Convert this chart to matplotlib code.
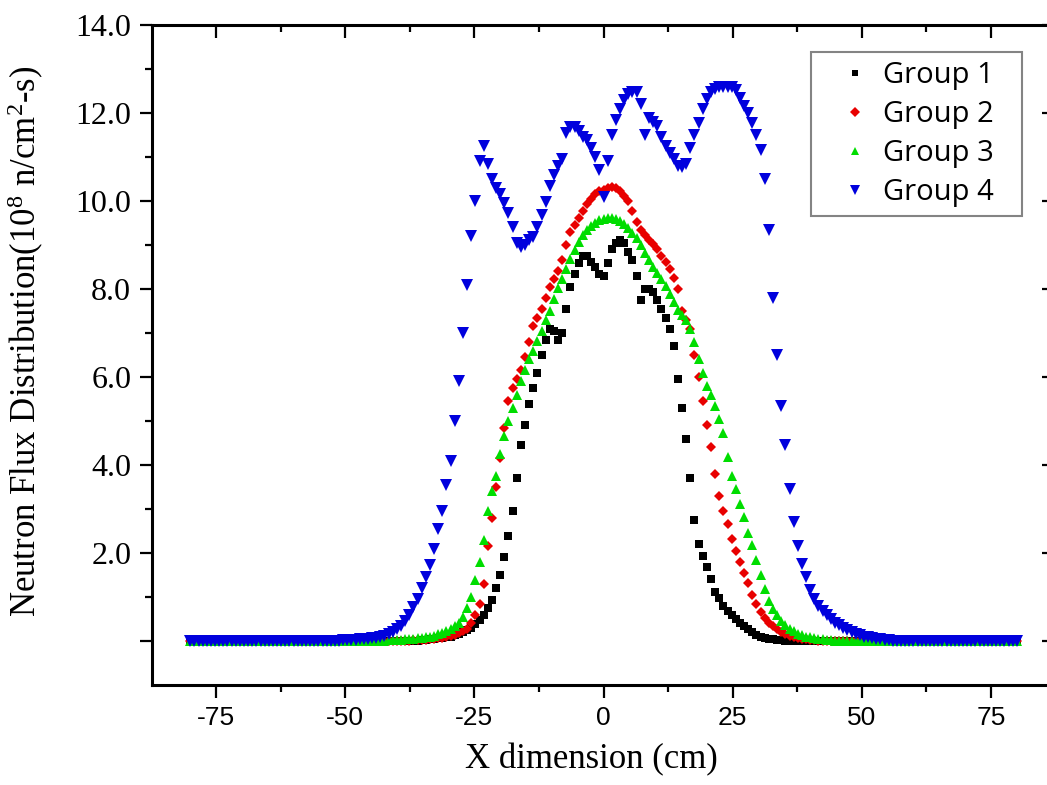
import numpy as np
import matplotlib
matplotlib.use("Agg")
import matplotlib.pyplot as plt
from matplotlib import lines as mlines
from matplotlib.ticker import FixedLocator

# mesh positions (cm), 0.8 cm pitch
x_cm = np.round(np.arange(-80, 80.01, 0.8), 1)

# group fluxes (1e8 n/cm2-s), 10 mesh points per row
group1 = [
    0, 0, 0, 0, 0, 0, 0, 0, 0, 0,
    0, 0, 0, 0, 0, 0, 0, 0, 0, 0,
    0, 0, 0, 0, 0, 0, 0, 0, 0, 0,
    0, 0, 0, 0, 0, 0, 0, 0, 0, 0,
    0, 0, 0, 0, 0, 0, 0, 0, 0.01, 0.01,
    0.01, 0.01, 0.01, 0.01, 0.01, 0.01, 0.02, 0.03, 0.04, 0.05,
    0.06, 0.07, 0.08, 0.10, 0.13, 0.16, 0.20, 0.24, 0.30, 0.38,
    0.48, 0.60, 0.75, 0.93, 1.20, 1.50, 1.90, 2.38, 2.95, 3.70,
    4.45, 4.90, 5.38, 5.75, 6.10, 6.50, 6.85, 7.08, 7.05, 6.85,
    7.00, 7.55, 8.05, 8.35, 8.60, 8.74, 8.74, 8.62, 8.50, 8.35,
    8.30, 8.60, 8.90, 9.05, 9.12, 9.05, 8.85, 8.65, 8.30, 7.76,
    8.00, 8.00, 7.93, 7.75, 7.55, 7.35, 7.10, 6.70, 5.95, 5.30,
    4.60, 3.70, 2.75, 2.20, 1.93, 1.68, 1.40, 1.12, 0.98, 0.80,
    0.68, 0.58, 0.50, 0.41, 0.33, 0.27, 0.20, 0.13, 0.09, 0.06,
    0.05, 0.04, 0.03, 0.02, 0.01, 0.01, 0.01, 0, 0, 0,
    0, 0, 0, 0, 0, 0, 0, 0, 0, 0,
    0, 0, 0, 0, 0, 0, 0, 0, 0, 0,
    0, 0, 0, 0, 0, 0, 0, 0, 0, 0,
    0, 0, 0, 0, 0, 0, 0, 0, 0, 0,
    0, 0, 0, 0, 0, 0, 0, 0, 0, 0,
    0,
]
group2 = [
    0, 0, 0, 0, 0, 0, 0, 0, 0, 0,
    0, 0, 0, 0, 0, 0, 0, 0, 0, 0,
    0, 0, 0, 0, 0, 0, 0, 0, 0, 0,
    0, 0, 0, 0, 0, 0, 0, 0, 0, 0,
    0, 0, 0, 0, 0, 0, 0.01, 0.01, 0.01, 0.01,
    0.01, 0.01, 0.01, 0.01, 0.02, 0.02, 0.02, 0.03, 0.04, 0.05,
    0.06, 0.07, 0.09, 0.11, 0.14, 0.18, 0.22, 0.28, 0.40, 0.60,
    0.85, 1.30, 2.15, 2.80, 3.50, 4.15, 4.85, 5.45, 5.75, 5.95,
    6.15, 6.45, 6.80, 7.15, 7.35, 7.55, 7.80, 8.05, 8.22, 8.40,
    8.65, 9.00, 9.30, 9.45, 9.62, 9.78, 9.92, 10.04, 10.15, 10.22,
    10.26, 10.30, 10.32, 10.30, 10.22, 10.12, 10.00, 9.78, 9.52, 9.35,
    9.22, 9.12, 9.02, 8.90, 8.75, 8.62, 8.45, 8.25, 8.00, 7.50,
    7.30, 7.10, 6.50, 6.00, 5.45, 4.90, 4.40, 3.80, 3.30, 2.95,
    2.65, 2.32, 2.05, 1.80, 1.55, 1.32, 1.05, 0.85, 0.66, 0.52,
    0.42, 0.34, 0.27, 0.21, 0.16, 0.12, 0.09, 0.07, 0.05, 0.04,
    0.03, 0.02, 0.01, 0.01, 0, 0, 0, 0, 0, 0,
    0, 0, 0, 0, 0, 0, 0, 0, 0, 0,
    0, 0, 0, 0, 0, 0, 0, 0, 0, 0,
    0, 0, 0, 0, 0, 0, 0, 0, 0, 0,
    0, 0, 0, 0, 0, 0, 0, 0, 0, 0,
    0,
]
group3 = [
    0, 0, 0, 0, 0, 0, 0, 0, 0, 0,
    0, 0, 0, 0, 0, 0, 0, 0, 0, 0,
    0, 0, 0, 0, 0, 0, 0, 0, 0, 0,
    0, 0, 0, 0, 0, 0, 0, 0, 0, 0,
    0, 0, 0, 0.01, 0.01, 0.01, 0.01, 0.01, 0.02, 0.02,
    0.03, 0.03, 0.04, 0.04, 0.05, 0.06, 0.07, 0.08, 0.10, 0.12,
    0.15, 0.18, 0.22, 0.27, 0.33, 0.42, 0.55, 0.75, 1.00, 1.38,
    1.80, 2.30, 2.95, 3.40, 3.75, 4.25, 4.65, 5.00, 5.30, 5.60,
    5.90, 6.15, 6.40, 6.60, 6.82, 7.05, 7.30, 7.50, 7.78, 8.02,
    8.22, 8.45, 8.68, 8.88, 9.07, 9.22, 9.33, 9.42, 9.50, 9.56,
    9.60, 9.62, 9.62, 9.60, 9.55, 9.47, 9.38, 9.28, 9.15, 9.00,
    8.82, 8.66, 8.50, 8.37, 8.22, 8.06, 7.88, 7.70, 7.52, 7.40,
    7.30, 7.10, 6.80, 6.40, 6.08, 5.80, 5.58, 5.35, 5.05, 4.72,
    4.18, 3.75, 3.45, 3.12, 2.82, 2.45, 2.18, 1.85, 1.50, 1.18,
    0.90, 0.72, 0.58, 0.46, 0.36, 0.28, 0.22, 0.17, 0.13, 0.10,
    0.08, 0.06, 0.05, 0.04, 0.03, 0.02, 0.01, 0.01, 0, 0,
    0, 0, 0, 0, 0, 0, 0, 0, 0, 0,
    0, 0, 0, 0, 0, 0, 0, 0, 0, 0,
    0, 0, 0, 0, 0, 0, 0, 0, 0, 0,
    0, 0, 0, 0, 0, 0, 0, 0, 0, 0,
    0,
]
group4 = [
    0, 0, 0, 0, 0, 0, 0, 0, 0, 0,
    0, 0, 0, 0, 0, 0, 0, 0, 0, 0,
    0, 0, 0, 0, 0, 0, 0, 0, 0, 0,
    0, 0, 0, 0.01, 0.01, 0.01, 0.01, 0.02, 0.02, 0.03,
    0.03, 0.04, 0.04, 0.05, 0.06, 0.07, 0.09, 0.12, 0.16, 0.21,
    0.27, 0.35, 0.45, 0.60, 0.78, 0.95, 1.20, 1.45, 1.72, 2.08,
    2.54, 2.95, 3.55, 4.10, 5.00, 5.90, 7.00, 8.10, 9.20, 10.00,
    10.90, 11.25, 10.85, 10.50, 10.30, 10.15, 9.95, 9.72, 9.40, 9.05,
    8.95, 9.00, 9.12, 9.18, 9.40, 9.68, 9.98, 10.35, 10.60, 10.80,
    10.95, 11.55, 11.68, 11.68, 11.58, 11.45, 11.38, 11.20, 11.00, 10.70,
    10.10, 10.90, 11.50, 11.85, 12.10, 12.30, 12.42, 12.48, 12.48, 12.20,
    11.50, 11.88, 11.80, 11.70, 11.45, 11.25, 11.10, 10.95, 10.80, 10.78,
    10.85, 11.20, 11.50, 11.78, 12.10, 12.32, 12.48, 12.55, 12.58, 12.60,
    12.60, 12.60, 12.52, 12.35, 12.15, 12.00, 11.78, 11.50, 11.15, 10.50,
    9.35, 7.80, 6.50, 5.35, 4.45, 3.45, 2.70, 2.15, 1.75, 1.45,
    1.15, 0.95, 0.80, 0.68, 0.58, 0.50, 0.42, 0.36, 0.30, 0.25,
    0.20, 0.16, 0.13, 0.10, 0.08, 0.06, 0.05, 0.04, 0.03, 0.02,
    0.01, 0.01, 0, 0, 0, 0, 0, 0, 0, 0,
    0, 0, 0, 0, 0, 0, 0, 0, 0, 0,
    0, 0, 0, 0, 0, 0, 0, 0, 0, 0,
    0,
]

labels = ['Group 1', 'Group 2', 'Group 3', 'Group 4']
y_ticks = [0, 2, 4, 6, 8, 10, 12, 14]
y_ticklabels = ['', '2.0', '4.0', '6.0', '8.0', '10.0', '12.0', '14.0']
y_minor = [1, 3, 5, 7, 9, 11, 13]
x_ticks = [-75, -50, -25, 0, 25, 50, 75]
x_minor = [-62.5, -37.5, -12.5, 12.5, 37.5, 62.5]

fig = plt.figure(figsize=(10.47, 7.85), dpi=100)
ax = fig.add_axes([0.1452, 0.1274, 0.8615, 0.8408])

ax.plot(x_cm, group1, ls='none', marker='s', ms=5.2, mew=0, color='#000000', label=labels[0])
ax.plot(x_cm, group2, ls='none', marker='D', ms=5.5, mew=0, color='#e80000', label=labels[1])
ax.plot(x_cm, group3, ls='none', marker='^', ms=7, mew=0, color='#00dd00', label=labels[2])
ax.plot(x_cm, group4, ls='none', marker='v', ms=8, mew=0, color='#0000dd', label=labels[3])

ax.set_xlim(-87.4, 87.2)
ax.set_ylim(-1, 14)

ax.set_xticks(x_ticks)
ax.set_xticklabels([str(v) for v in x_ticks], family='Liberation Sans', fontsize=19)
ax.xaxis.set_minor_locator(FixedLocator(x_minor))
ax.set_yticks(y_ticks)
ax.set_yticklabels(y_ticklabels, family='Liberation Serif', fontsize=23)
ax.yaxis.set_minor_locator(FixedLocator(y_minor))

ax.tick_params(which='both', direction='out', width=1.6)
ax.tick_params(which='major', length=9)
ax.tick_params(which='minor', length=5)
ax.tick_params(axis='x', which='major', pad=6)
ax.tick_params(axis='y', which='major', pad=6)

for s in ax.spines.values():
    s.set_linewidth(2.2)

# top and right ticks point inward (drawn as tick markers on the frame)
tx = ax.get_xaxis_transform()
ty = ax.get_yaxis_transform()
ax.plot(x_ticks, [1] * len(x_ticks), transform=tx, ls='none', marker=mlines.TICKDOWN,
        ms=9, mew=1.6, color='black', clip_on=False, zorder=5)
ax.plot(x_minor, [1] * len(x_minor), transform=tx, ls='none', marker=mlines.TICKDOWN,
        ms=5, mew=1.6, color='black', clip_on=False, zorder=5)
ax.plot([1] * len(y_ticks), y_ticks, transform=ty, ls='none', marker=mlines.TICKLEFT,
        ms=9, mew=1.6, color='black', clip_on=False, zorder=5)
ax.plot([1] * len(y_minor), y_minor, transform=ty, ls='none', marker=mlines.TICKLEFT,
        ms=5, mew=1.6, color='black', clip_on=False, zorder=5)

ax.set_xlabel('X dimension (cm)', family='Liberation Serif', fontsize=25)
ax.xaxis.set_label_coords(0.487, -0.088)
ax.set_ylabel(r'Neutron Flux Distribution(10$\mathregular{^{8}}$ n/cm$\mathregular{^{2}}$-s)',
              family='Liberation Serif', fontsize=25)
ax.yaxis.set_label_coords(-0.118, 0.52)

h, l = ax.get_legend_handles_labels()
leg = ax.legend(h[:4], l[:4], loc='upper left', bbox_to_anchor=(0.731, 0.717, 0.234, 0.242),
                mode='expand', frameon=True, fancybox=False,
                prop={'family': 'Open Sans', 'size': 21},
                labelspacing=0.35, handlelength=2.4, handletextpad=-0.25,
                borderpad=0.3, borderaxespad=0, markerscale=0.9)
leg.get_frame().set_edgecolor('#666666')
leg.get_frame().set_linewidth(1.5)

fig.savefig('out.png', dpi=100)
